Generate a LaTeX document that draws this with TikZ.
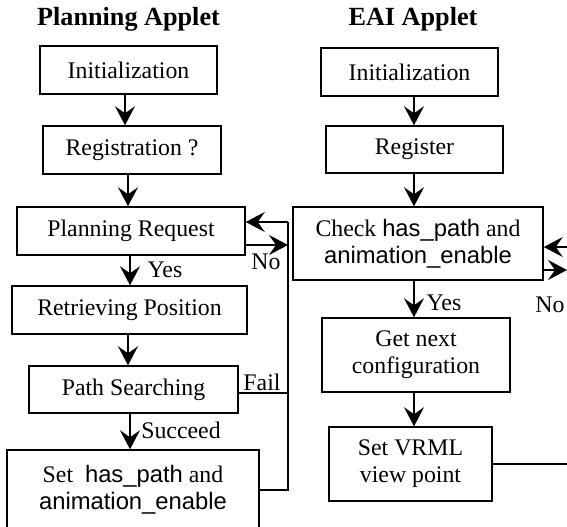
\documentclass[tikz,border=0pt]{standalone}
\usepackage{fontspec}
\setmainfont{Liberation Serif}
\setsansfont{Liberation Sans}
\usetikzlibrary{arrows.meta}
\begin{document}
\begin{tikzpicture}[x=0.5pt,y=-0.5pt,
 box/.style={draw,line width=0.75pt,inner sep=0pt,align=center,font=\fontsize{11.9}{13.5}\selectfont},
 lbl/.style={inner sep=0pt,font=\fontsize{11.9}{13.5}\selectfont},
 ttl/.style={inner sep=0pt,font=\fontsize{13.1}{15}\selectfont\bfseries},
 arr/.style={line width=0.75pt,-{Stealth[length=9.5pt,width=10pt,inset=3.5pt]}},
 ln/.style={line width=0.75pt}]
\useasboundingbox (0,0) rectangle (567,526);
\clip (0,0) rectangle (567,526);
% titles
\node[ttl] (t1) at (128.5,19) {Planning Applet};
\node[ttl] (t2) at (413,19) {EAI Applet};
% left column
\node[box,minimum width=88.5pt,minimum height=24pt] (i1) at (128.5,70) {Initialization};
\node[box,minimum width=89pt,minimum height=24pt] (r1) at (132,150) {Registration ?};
\node[box,minimum width=114pt,minimum height=24pt] (pr) at (131,231) {Planning Request};
\node[box,minimum width=117.5pt,minimum height=24pt] (rp) at (129.5,310) {Retrieving Position};
\node[box,minimum width=104.5pt,minimum height=23.5pt] (ps) at (133.5,389.5) {Path Searching};
\node[box,minimum width=126pt,minimum height=40pt] (sh) at (133,490) {Set\ \ {\sffamily has\_path} and\\{\sffamily animation\_enable}};
% right column
\node[box,minimum width=88.5pt,minimum height=24pt] (i2) at (409.5,72) {Initialization};
\node[box,minimum width=88.5pt,minimum height=23.5pt] (r2) at (414.5,149.5) {Register};
\node[box,minimum width=125pt,minimum height=36.5pt] (ck) at (418,243.5) {Check {\sffamily has\_path} and\\{\sffamily animation\_enable}};
\node[box,minimum width=94pt,minimum height=37pt] (gn) at (416,355) {Get next\\configuration};
\node[box,minimum width=81.5pt,minimum height=37pt] (sv) at (410.5,464) {Set VRML\\view point};
% column coordinates
\coordinate (xa) at (125,0);
\coordinate (xb) at (128,0);
\coordinate (xc) at (130,0);
\coordinate (xr) at (414,0);
\coordinate (lx) at (288,0);
\coordinate (ein) at (567,247);
\coordinate (eout) at (567,270);
% left arrows
\draw[arr] (i1.south -| xa) -- (r1.north -| xa);
\draw[arr] (r1.south -| xb) -- (pr.north -| xb);
\draw[arr] (pr.south -| xc) -- (rp.north -| xc);
\draw[arr] (rp.south -| xb) -- (ps.north -| xb);
\draw[arr] (ps.south -| xc) -- (sh.north -| xc);
% loop
\coordinate (prin) at ([yshift=4.5pt]pr.east);
\coordinate (prout) at ([yshift=-7pt]pr.east);
\coordinate (psout) at ([yshift=-1.75pt]ps.east);
\draw[ln] (sh.east) -- (sh.east -| lx) -- (prin -| lx);
\draw[arr] (prin -| lx) -- (prin);
\draw[arr] (prout) -- (prout -| lx);
\draw[ln] (psout) -- (psout -| lx);
% right arrows
\draw[arr] (i2.south -| xr) -- (r2.north -| xr);
\draw[arr] (r2.south -| xr) -- (ck.north -| xr);
\draw[arr] (ck.south -| xr) -- (gn.north -| xr);
\draw[arr] (gn.south -| xr) -- (sv.north -| xr);
\draw[arr] (ein) -- (ein -| ck.east);
\draw[arr] (eout -| ck.east) -- (eout);
\draw[ln] (sv.east) -- (sv.east -| ein);
% labels
\node[lbl] (no1) at (266,262) {No};
\node[lbl] (yes1) at (165,270) {Yes};
\node[lbl] (fail) at (262,382) {Fail};
\node[lbl] (succ) at (181,430) {Succeed};
\node[lbl] (yes2) at (444,303) {Yes};
\node[lbl] (no2) at (550,305) {No};
\end{tikzpicture}
\end{document}
